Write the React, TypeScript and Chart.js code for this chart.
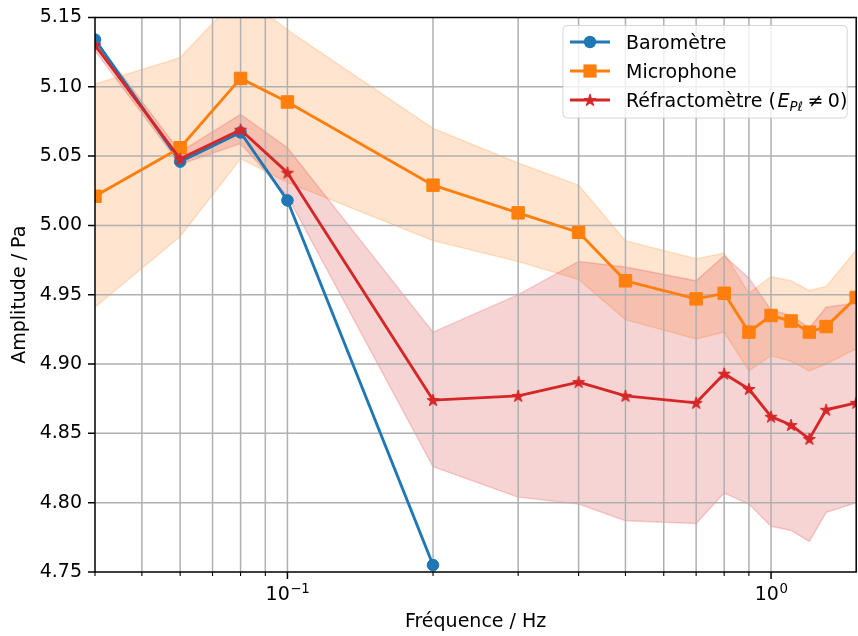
import React, { useEffect, useRef } from 'react';
import { Chart, registerables } from 'chart.js';

Chart.register(...registerables);

// ---------- data ----------
const baroFreq = [0.04, 0.06, 0.08, 0.1, 0.2];
const baroAmp = [5.134, 5.046, 5.067, 5.018, 4.755];

const micFreq = [0.04, 0.06, 0.08, 0.1, 0.2, 0.3, 0.4, 0.5, 0.7, 0.8, 0.9, 1.0, 1.1, 1.2, 1.3, 1.5];
const micAmp = [5.021, 5.056, 5.106, 5.089, 5.029, 5.009, 4.995, 4.960, 4.947, 4.951, 4.923, 4.935, 4.931, 4.923, 4.927, 4.948];
const micUpper = [5.102, 5.121, 5.167, 5.141, 5.070, 5.045, 5.029, 4.989, 4.976, 4.980, 4.951, 4.963, 4.960, 4.953, 4.956, 4.982];
const micLower = [4.941, 4.992, 5.048, 5.031, 4.989, 4.974, 4.961, 4.932, 4.918, 4.923, 4.895, 4.906, 4.902, 4.895, 4.900, 4.911];

const refFreq = [0.04, 0.06, 0.08, 0.1, 0.2, 0.3, 0.4, 0.5, 0.7, 0.8, 0.9, 1.0, 1.1, 1.2, 1.3, 1.5];
const refAmp = [5.130, 5.048, 5.069, 5.038, 4.874, 4.877, 4.887, 4.877, 4.872, 4.893, 4.882, 4.862, 4.856, 4.846, 4.867, 4.872];
const refUpper = [5.134, 5.053, 5.080, 5.056, 4.923, 4.950, 4.974, 4.970, 4.960, 4.978, 4.962, 4.939, 4.935, 4.926, 4.941, 4.944];
const refLower = [5.126, 5.044, 5.059, 5.021, 4.826, 4.804, 4.799, 4.787, 4.785, 4.807, 4.799, 4.783, 4.780, 4.772, 4.793, 4.800];

const xMajorTicks = [0.1, 1];
const xMajorExponents = ['\u22121', '0'];
const xMinorTicks = [0.04, 0.05, 0.06, 0.07, 0.08, 0.09, 0.2, 0.3, 0.4, 0.5, 0.6, 0.7, 0.8, 0.9];
const yTicks = [4.75, 4.8, 4.85, 4.9, 4.95, 5.0, 5.05, 5.1, 5.15];

const xLabel = 'Fréquence / Hz';
const yLabel = 'Amplitude / Pa';
const seriesNames = ['Baromètre', 'Microphone', 'Réfractomètre ('];

// ---------- style ----------
const BLUE = '#1f77b4';
const ORANGE = '#ff7f0e';
const RED = '#d62728';
const FONT = '"DejaVu Sans", sans-serif';
const GRID = '#b0b0b0';

function makeStar(color: string, outer: number, size: number) {
  const c = document.createElement('canvas');
  c.width = size;
  c.height = size;
  const g = c.getContext('2d')!;
  const cx = size / 2;
  const cy = size / 2 + 0.5;
  const inner = outer * 0.381966;
  g.beginPath();
  for (let i = 0; i < 10; i++) {
    const r = i % 2 === 0 ? outer : inner;
    const a = -Math.PI / 2 + (i * Math.PI) / 5;
    const px = cx + r * Math.cos(a);
    const py = cy + r * Math.sin(a);
    if (i === 0) g.moveTo(px, py);
    else g.lineTo(px, py);
  }
  g.closePath();
  g.fillStyle = color;
  g.fill();
  g.lineWidth = 1;
  g.strokeStyle = color;
  g.lineJoin = 'miter';
  g.stroke();
  return c;
}

const pts = (xs: number[], ys: number[]) => xs.map((x, i) => ({ x, y: ys[i] }));

export default function App() {
  const ref = useRef<HTMLCanvasElement | null>(null);

  useEffect(() => {
    const canvas = ref.current;
    if (!canvas) return;
    const star = makeStar(RED, 6.4, 16);

    const mplPlugin = {
      id: 'mplLook',
      beforeDatasetDraw(chart: any, args: any) {
        if (args.index !== 0) return;
        const { ctx, chartArea: a, scales } = chart;
        const x = scales.x;
        const y = scales.y;
        ctx.save();
        ctx.strokeStyle = GRID;
        ctx.lineWidth = 1.5;
        ctx.beginPath();
        for (const v of [...xMinorTicks, ...xMajorTicks]) {
          const px = x.getPixelForValue(v);
          if (px <= a.left + 1 || px >= a.right - 1) continue;
          ctx.moveTo(px, a.top);
          ctx.lineTo(px, a.bottom);
        }
        for (const v of yTicks) {
          const py = y.getPixelForValue(v);
          if (py <= a.top + 1 || py >= a.bottom - 1) continue;
          ctx.moveTo(a.left, py);
          ctx.lineTo(a.right, py);
        }
        ctx.stroke();
        ctx.restore();
      },
      afterDatasetsDraw(chart: any) {
        const { ctx, chartArea: a, scales } = chart;
        const x = scales.x;
        const y = scales.y;
        ctx.save();
        ctx.strokeStyle = '#000';
        ctx.lineWidth = 1.5;
        ctx.lineJoin = 'miter';
        ctx.beginPath();
        ctx.rect(a.left, a.top, a.right - a.left, a.bottom - a.top);
        ctx.stroke();
        ctx.beginPath();
        for (const v of yTicks) {
          const py = y.getPixelForValue(v);
          ctx.moveTo(a.left, py);
          ctx.lineTo(a.left - 7, py);
        }
        ctx.stroke();
        ctx.beginPath();
        for (const v of xMajorTicks) {
          const px = x.getPixelForValue(v);
          ctx.moveTo(px, a.bottom);
          ctx.lineTo(px, a.bottom + 7);
        }
        ctx.stroke();
        ctx.lineWidth = 1.1;
        ctx.beginPath();
        for (const v of xMinorTicks) {
          const px = x.getPixelForValue(v);
          ctx.moveTo(px, a.bottom);
          ctx.lineTo(px, a.bottom + 4);
        }
        ctx.stroke();
        ctx.fillStyle = '#000';
        ctx.textBaseline = 'alphabetic';
        ctx.textAlign = 'left';
        xMajorTicks.forEach((v, i) => {
          const px = x.getPixelForValue(v);
          ctx.font = `19px ${FONT}`;
          const w1 = ctx.measureText('10').width;
          ctx.font = `13.3px ${FONT}`;
          const w2 = ctx.measureText(xMajorExponents[i]).width;
          const start = px - (w1 + w2) / 2;
          ctx.font = `19px ${FONT}`;
          ctx.fillText('10', start, a.bottom + 28);
          ctx.font = `13.3px ${FONT}`;
          ctx.fillText(xMajorExponents[i], start + w1 + 0.5, a.bottom + 21.3);
        });
        ctx.restore();
      },
      afterDraw(chart: any) {
        const { ctx, chartArea: a } = chart;
        ctx.save();
        const bx = 563;
        const by = 25.5;
        const bw = a.right - 9 - bx;
        const bh = 92.5;
        const r = 4;
        ctx.beginPath();
        ctx.moveTo(bx + r, by);
        ctx.lineTo(bx + bw - r, by);
        ctx.arcTo(bx + bw, by, bx + bw, by + r, r);
        ctx.lineTo(bx + bw, by + bh - r);
        ctx.arcTo(bx + bw, by + bh, bx + bw - r, by + bh, r);
        ctx.lineTo(bx + r, by + bh);
        ctx.arcTo(bx, by + bh, bx, by + bh - r, r);
        ctx.lineTo(bx, by + r);
        ctx.arcTo(bx, by, bx + r, by, r);
        ctx.closePath();
        ctx.fillStyle = 'rgba(255,255,255,0.8)';
        ctx.fill();
        ctx.strokeStyle = 'rgba(204,204,204,0.8)';
        ctx.lineWidth = 1;
        ctx.stroke();

        const rowsY = [42, 71, 100];
        const colors = [BLUE, ORANGE, RED];
        rowsY.forEach((ly, i) => {
          ctx.strokeStyle = colors[i];
          ctx.fillStyle = colors[i];
          ctx.lineWidth = 2.8;
          ctx.beginPath();
          ctx.moveTo(570, ly);
          ctx.lineTo(610, ly);
          ctx.stroke();
          ctx.lineWidth = 1;
          if (i === 0) {
            ctx.beginPath();
            ctx.arc(590, ly, 6.2, 0, Math.PI * 2);
            ctx.fill();
          } else if (i === 1) {
            ctx.fillRect(590 - 6.6, ly - 6.6, 13.2, 13.2);
          } else {
            ctx.drawImage(star, 590 - star.width / 2, ly - star.height / 2);
          }
        });

        ctx.fillStyle = '#000';
        ctx.textBaseline = 'alphabetic';
        ctx.textAlign = 'left';
        ctx.font = `19px ${FONT}`;
        ctx.fillText(seriesNames[0], 626, rowsY[0] + 7.3);
        ctx.fillText(seriesNames[1], 626, rowsY[1] + 7.3);
        let tx = 626;
        const bl = rowsY[2] + 7.3;
        ctx.fillText(seriesNames[2], tx, bl);
        tx += ctx.measureText(seriesNames[2]).width + 1.5;
        ctx.font = `italic 19px ${FONT}`;
        ctx.fillText('E', tx, bl);
        tx += ctx.measureText('E').width;
        ctx.font = `italic 13.3px ${FONT}`;
        ctx.fillText('P\u2113', tx, bl + 3.5);
        tx += ctx.measureText('P\u2113').width + 4.5;
        ctx.font = `19px ${FONT}`;
        ctx.fillText('\u2260', tx, bl);
        tx += ctx.measureText('\u2260').width + 4.5;
        ctx.fillText('0', tx, bl);
        tx += ctx.measureText('0').width;
        ctx.fillText(')', tx, bl);
        ctx.restore();
      },
    };

    const lineCommon = {
      borderWidth: 2.9,
      borderJoinStyle: 'round' as const,
      tension: 0,
      fill: false,
      pointBorderWidth: 1,
      pointHoverRadius: 0,
    };
    const bandCommon = {
      borderWidth: 1.5,
      pointRadius: 0,
      pointHoverRadius: 0,
      tension: 0,
    };

    const chart = new Chart(canvas, {
      type: 'line',
      data: {
        datasets: [
          {
            ...lineCommon,
            label: 'Baromètre',
            data: pts(baroFreq, baroAmp),
            borderColor: BLUE,
            backgroundColor: BLUE,
            pointStyle: 'circle',
            pointRadius: 5.8,
            pointBackgroundColor: BLUE,
            pointBorderColor: BLUE,
            order: 3,
          },
          {
            ...lineCommon,
            label: 'Microphone',
            data: pts(micFreq, micAmp),
            borderColor: ORANGE,
            backgroundColor: ORANGE,
            pointStyle: 'rect',
            pointRadius: 8.8,
            pointBackgroundColor: ORANGE,
            pointBorderColor: ORANGE,
            order: 2,
          },
          {
            ...lineCommon,
            label: 'Réfractomètre',
            data: pts(refFreq, refAmp),
            borderColor: RED,
            backgroundColor: RED,
            pointStyle: star as any,
            pointRadius: 6.5,
            pointBackgroundColor: RED,
            pointBorderColor: RED,
            order: 1,
          },
          {
            ...bandCommon,
            label: 'mic+',
            data: pts(micFreq, micUpper),
            borderColor: 'rgba(255,127,14,0.2)',
            backgroundColor: 'rgba(255,127,14,0.2)',
            fill: '+1',
            order: 12,
          },
          {
            ...bandCommon,
            label: 'mic-',
            data: pts(micFreq, micLower),
            borderColor: 'rgba(255,127,14,0.2)',
            backgroundColor: 'rgba(255,127,14,0.2)',
            fill: false,
            order: 12,
          },
          {
            ...bandCommon,
            label: 'ref+',
            data: pts(refFreq, refUpper),
            borderColor: 'rgba(214,39,40,0.2)',
            backgroundColor: 'rgba(214,39,40,0.2)',
            fill: '+1',
            order: 11,
          },
          {
            ...bandCommon,
            label: 'ref-',
            data: pts(refFreq, refLower),
            borderColor: 'rgba(214,39,40,0.2)',
            backgroundColor: 'rgba(214,39,40,0.2)',
            fill: false,
            order: 11,
          },
        ],
      },
      options: {
        responsive: false,
        animation: false,
        devicePixelRatio: 1,
        layout: { padding: { top: 15, right: 0, bottom: 0, left: 0 } },
        font: { family: FONT },
        plugins: {
          legend: { display: false },
          tooltip: { enabled: false },
        },
        events: [],
        scales: {
          x: {
            type: 'logarithmic',
            min: 0.04,
            max: 1.5,
            afterBuildTicks: (s: any) => {
              s.ticks = [...xMinorTicks, ...xMajorTicks].sort((p, q) => p - q).map((v) => ({ value: v }));
            },
            afterFit: (s: any) => {
              s.height = 64;
            },
            grid: { display: false, drawTicks: false },
            border: { display: false },
            ticks: { display: false },
            title: {
              display: true,
              text: xLabel,
              color: '#000',
              font: { family: FONT, size: 19 },
              padding: { top: 0, bottom: 3 },
            },
          },
          y: {
            type: 'linear',
            min: 4.75,
            max: 5.15,
            afterBuildTicks: (s: any) => {
              s.ticks = yTicks.map((v) => ({ value: v }));
            },
            afterFit: (s: any) => {
              s.width = 95;
            },
            grid: { display: false, drawTicks: true, tickLength: 7 },
            border: { display: false },
            ticks: {
              color: '#000',
              font: { family: FONT, size: 19 },
              padding: 6,
              autoSkip: false,
              callback: (v: any) => Number(v).toFixed(2),
            },
            title: {
              display: true,
              text: yLabel,
              color: '#000',
              font: { family: FONT, size: 19 },
              padding: { top: 9, bottom: 0 },
            },
          },
        },
      } as any,
      plugins: [mplPlugin],
    });

    return () => {
      chart.destroy();
    };
  }, []);

  return (
    <div
      style={{
        position: 'fixed',
        left: 0,
        top: 0,
        width: 858,
        height: 636,
        overflow: 'hidden',
        background: '#fff',
      }}
    >
      <canvas ref={ref} width={866} height={636} style={{ display: 'block' }} />
    </div>
  );
}
